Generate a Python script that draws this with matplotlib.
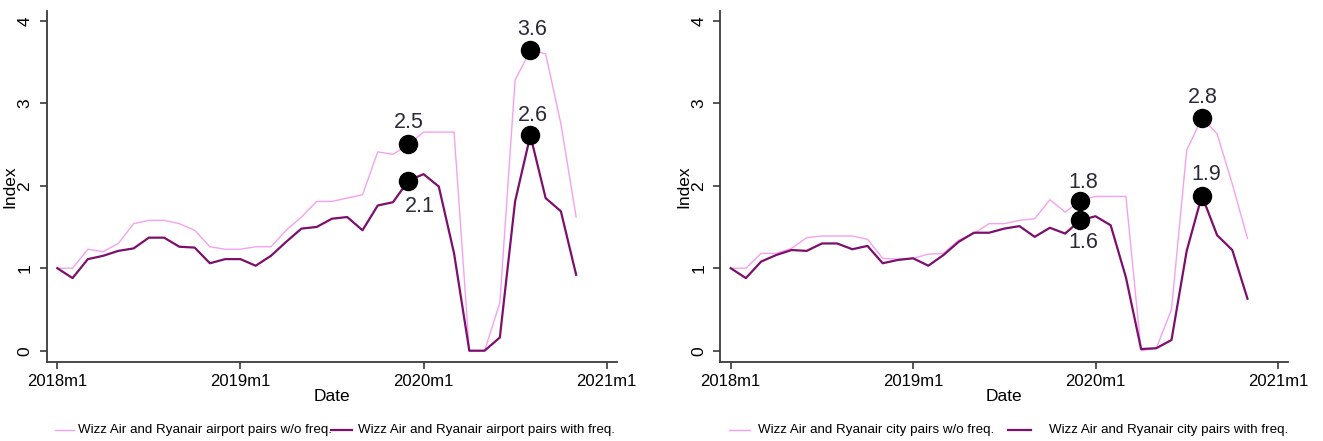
import numpy as np
import matplotlib
matplotlib.use("Agg")
import matplotlib.pyplot as plt
from matplotlib.lines import Line2D

plt.rcParams['font.family'] = ['Liberation Sans', 'DejaVu Sans']

# Monthly observations, 2018m1 .. 2020m11 (month offset from 2018m1)
month_idx = np.arange(35)
xtick_pos = [0, 12, 24, 36]
xtick_labels = ["2018m1", "2019m1", "2020m1", "2021m1"]
ytick_pos = [0, 1, 2, 3, 4]

airport_wo_freq = [1.00, 1.00, 1.23, 1.20, 1.30, 1.54, 1.58, 1.58, 1.54, 1.46,
                   1.26, 1.23, 1.23, 1.26, 1.26, 1.46, 1.62, 1.81, 1.81, 1.85,
                   1.89, 2.41, 2.38, 2.50, 2.65, 2.65, 2.65, 0.00, 0.00, 0.58,
                   3.28, 3.64, 3.60, 2.75, 1.62]
airport_with_freq = [1.00, 0.88, 1.11, 1.15, 1.21, 1.24, 1.37, 1.37, 1.26, 1.25,
                     1.06, 1.11, 1.11, 1.03, 1.15, 1.32, 1.48, 1.50, 1.60, 1.62,
                     1.46, 1.76, 1.80, 2.06, 2.14, 1.99, 1.18, 0.00, 0.00, 0.16,
                     1.81, 2.61, 1.85, 1.69, 0.92]
city_wo_freq = [1.00, 1.00, 1.18, 1.18, 1.24, 1.37, 1.39, 1.39, 1.39, 1.35,
                1.12, 1.11, 1.12, 1.17, 1.18, 1.34, 1.42, 1.54, 1.54, 1.58,
                1.60, 1.83, 1.68, 1.82, 1.87, 1.87, 1.87, 0.00, 0.03, 0.50,
                2.43, 2.82, 2.63, 2.02, 1.36]
city_with_freq = [1.00, 0.88, 1.08, 1.16, 1.22, 1.21, 1.30, 1.30, 1.23, 1.27,
                  1.06, 1.10, 1.12, 1.03, 1.16, 1.32, 1.43, 1.43, 1.48, 1.51,
                  1.38, 1.49, 1.42, 1.58, 1.63, 1.52, 0.89, 0.02, 0.03, 0.13,
                  1.21, 1.88, 1.40, 1.22, 0.63]

# Highlighted points: (series, month index, label offset in px (dx, dy))
airport_marks = [("wo", 23, (1, 22)), ("with", 23, (12, -26)),
                 ("wo", 31, (2, 21)), ("with", 31, (3, 20))]
city_marks = [("wo", 23, (3, 18)), ("with", 23, (3, -22)),
              ("wo", 31, (1, 21)), ("with", 31, (4, 21))]

legend_airport = ["Wizz Air and Ryanair airport pairs w/o freq.",
                  "Wizz Air and Ryanair airport pairs with freq."]
legend_city = ["Wizz Air and Ryanair city pairs w/o freq.",
               "Wizz Air and Ryanair city pairs with freq."]

PINK = "#f4a2ee"
PURPLE = "#7d0f6c"
AXIS = "#3a3a3a"
LABEL = "#2b2b38"

W, H = 1323, 441
fig = plt.figure(figsize=(W / 100, H / 100), dpi=100)
fig.patch.set_facecolor("white")


def px_box(left, right, top, bottom):
    return [left / W, 1 - bottom / H, (right - left) / W, (bottom - top) / H]


def draw_panel(ax, wo, with_, marks, x_px, month_px):
    l1, = ax.plot(month_idx, wo, color=PINK, lw=1.0, zorder=2)
    l2, = ax.plot(month_idx, with_, color=PURPLE, lw=1.6, zorder=3)
    series = {"wo": wo, "with": with_}
    for key, m, (dx, dy) in marks:
        v = series[key][m]
        ax.plot([month_idx[m]], [v], "o", color="black", ms=13, zorder=5)
        ax.annotate(f"{v:.1f}", (month_idx[m], v),
                    xytext=(dx * 0.72, dy * 0.72), textcoords="offset points",
                    ha="center", va="center", fontsize=15.5, color=LABEL, zorder=6)

    # x_px = (left spine, 2018m1 tick, right end) in pixels
    left_m = (x_px[0] - x_px[1]) / month_px
    right_m = (x_px[2] - x_px[1]) / month_px
    ax.set_xlim(left_m, right_m)
    ax.set_ylim(-11 / 82.5, 4 + 10 / 82.5)

    ax.set_xticks(xtick_pos)
    ax.set_xticklabels(xtick_labels, fontsize=12)
    ax.set_yticks(ytick_pos)
    ax.set_yticklabels([str(t) for t in ytick_pos], rotation=90, va="center",
                       fontsize=12.5)
    ax.tick_params(axis="both", colors=AXIS, length=5, width=1.2,
                   labelcolor="black")
    ax.tick_params(axis="x", pad=4)
    ax.tick_params(axis="y", pad=5)
    for s in ("top", "right"):
        ax.spines[s].set_visible(False)
    for s in ("left", "bottom"):
        ax.spines[s].set_color(AXIS)
        ax.spines[s].set_linewidth(1.3)
    ax.set_xlabel("Date", fontsize=12.5, labelpad=0)
    ax.set_ylabel("Index", fontsize=12.5, labelpad=0)
    return l1, l2


def draw_legend(lines, labels, items):
    # items: list of (line_x0, line_x1, text_x) in px, row at y = 430 px
    y = 1 - 430 / H
    for line, lab, (a, b, t) in zip(lines, labels, items):
        fig.add_artist(Line2D([a / W, b / W], [y, y], transform=fig.transFigure,
                              color=line.get_color(), lw=line.get_linewidth()))
        fig.text(t / W, y, lab, ha="left", va="center", fontsize=9.6,
                 color="black")


ax1 = fig.add_axes(px_box(46.5, 616.7, 10.7, 361.7))
h1 = draw_panel(ax1, airport_wo_freq, airport_with_freq, airport_marks,
                (46.5, 57.3, 616.7), 15.26)
ax2 = fig.add_axes(px_box(720.3, 1288.0, 10.7, 361.7))
h2 = draw_panel(ax2, city_wo_freq, city_with_freq, city_marks,
                (720.3, 730.7, 1288.0), 15.2)

draw_legend(h1, legend_airport, [(55, 74, 77.5), (330.5, 352, 358)])
draw_legend(h2, legend_city, [(729, 750, 758), (1008, 1031, 1048.6)])

fig.savefig("out.png", dpi=100, facecolor="white")
